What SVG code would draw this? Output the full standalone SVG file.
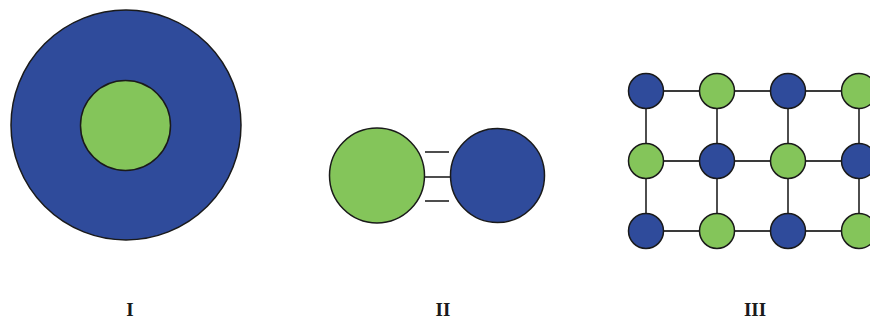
<svg xmlns="http://www.w3.org/2000/svg" width="870" height="322" viewBox="0 0 870 322">
<style>
.blue{fill:#2F4B9B;stroke:#1a1a1a;stroke-width:1.5}
.green{fill:#84C55A;stroke:#1a1a1a;stroke-width:1.5}
.link{stroke:#3a3a3a;stroke-width:1.8;fill:none}
.lbl{font-family:"Liberation Serif",serif;font-weight:bold;font-size:19px;fill:#1a1a1a;text-anchor:middle}
</style>
<rect width="870" height="322" fill="#fff"/>
<g id="connectors">
<line class="link" x1="425" y1="152" x2="449" y2="152"/>
<line class="link" x1="425" y1="177" x2="450" y2="177"/>
<line class="link" x1="425" y1="201" x2="449" y2="201"/>
<line class="link" x1="646" y1="91" x2="859" y2="91"/>
<line class="link" x1="646" y1="161" x2="859" y2="161"/>
<line class="link" x1="646" y1="231" x2="859" y2="231"/>
<line class="link" x1="646" y1="91" x2="646" y2="231"/>
<line class="link" x1="717" y1="91" x2="717" y2="231"/>
<line class="link" x1="788" y1="91" x2="788" y2="231"/>
<line class="link" x1="859" y1="91" x2="859" y2="231"/>
</g>
<g id="I">
<circle class="blue" cx="126" cy="125" r="115"/>
<circle class="green" cx="125.5" cy="125.5" r="45"/>
<text class="lbl" x="130" y="316">I</text>
</g>
<g id="II">
<circle class="green" cx="377" cy="175.5" r="47.5"/>
<circle class="blue" cx="497.5" cy="175.5" r="47"/>
<text class="lbl" x="443" y="316">II</text>
</g>
<g id="III">
<circle class="blue" cx="646" cy="91" r="17.5"/>
<circle class="green" cx="717" cy="91" r="17.5"/>
<circle class="blue" cx="788" cy="91" r="17.5"/>
<circle class="green" cx="859" cy="91" r="17.5"/>
<circle class="green" cx="646" cy="161" r="17.5"/>
<circle class="blue" cx="717" cy="161" r="17.5"/>
<circle class="green" cx="788" cy="161" r="17.5"/>
<circle class="blue" cx="859" cy="161" r="17.5"/>
<circle class="blue" cx="646" cy="231" r="17.5"/>
<circle class="green" cx="717" cy="231" r="17.5"/>
<circle class="blue" cx="788" cy="231" r="17.5"/>
<circle class="green" cx="859" cy="231" r="17.5"/>
<text class="lbl" x="755" y="316">III</text>
</g>
</svg>
